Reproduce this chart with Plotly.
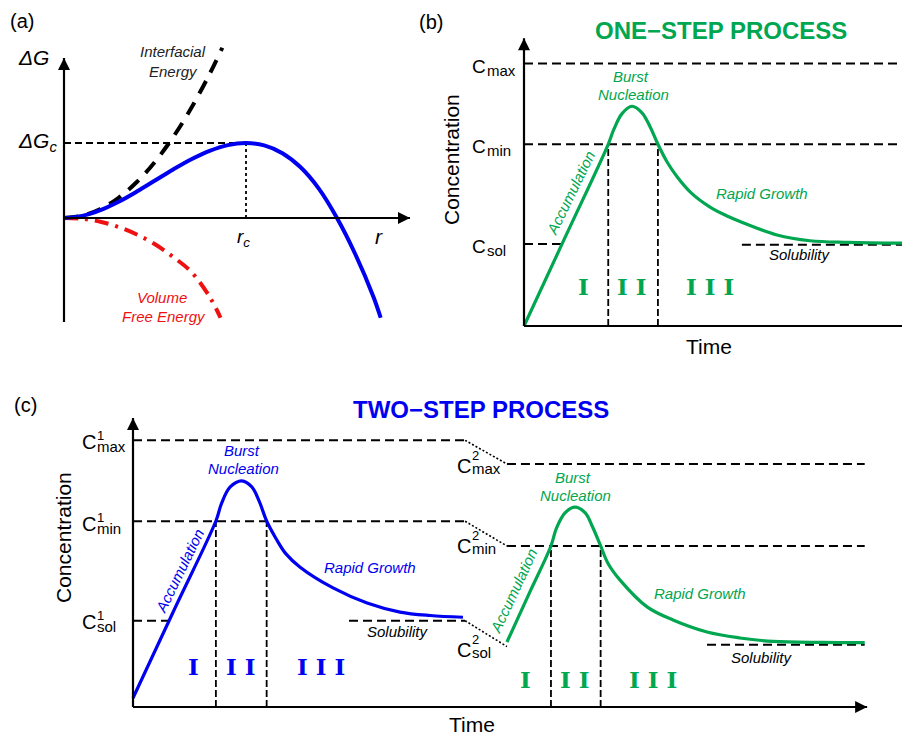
import plotly.graph_objects as go

W, H = 902, 732

# ---------------- data ----------------
# (a) free energy vs radius
r_total = [0, 0.1, 0.2, 0.3, 0.4, 0.5, 0.6, 0.7, 0.8, 0.9, 1.0, 1.1, 1.2, 1.3, 1.4, 1.5, 1.6, 1.7, 1.74]
dG_total = [0, 0.028, 0.104, 0.216, 0.352, 0.5, 0.648, 0.784, 0.896, 0.972, 1.0, 0.968, 0.864, 0.676, 0.392, 0.0, -0.48, -1.05, -1.33]
r_surface = [0, 0.1, 0.2, 0.3, 0.4, 0.5, 0.6, 0.7, 0.8, 0.87]
dG_surface = [0, 0.03, 0.12, 0.27, 0.48, 0.75, 1.08, 1.47, 1.92, 2.27]
r_volume = [0, 0.1, 0.2, 0.3, 0.4, 0.5, 0.6, 0.7, 0.8, 0.86]
dG_volume = [0, -0.01, -0.05, -0.12, -0.22, -0.35, -0.52, -0.72, -1.05, -1.33]
r_crit, dG_crit = 1.0, 1.0

# (b) one-step process
t_one = [0, 1.5, 3.12, 3.33, 3.63, 4.0, 4.37, 4.67, 4.96, 5.3, 5.67, 6.2, 6.89, 7.5, 8.11, 9.37, 10.59, 12.0, 14.0]
c_one = [0, 1.065, 2.216, 2.40, 2.59, 2.68, 2.60, 2.43, 2.216, 2.0, 1.82, 1.62, 1.45, 1.345, 1.26, 1.11, 1.04, 1.02, 1.01]
one_levels = [3.2, 2.216, 1.0]          # Cmax, Cmin, Csol
one_nuc = [3.12, 4.96]                  # nucleation window
one_sol_span = [8.07, 14.0]
one_csol_tick = 1.44
one_tend = 14.0

# (c) two-step process
t_step1 = [0, 1.5, 3.07, 3.28, 3.6, 4.03, 4.4, 4.68, 4.95, 5.3, 5.65, 6.19, 7.41, 8.67, 9.89, 11.0, 12.22]
c_step1 = [0.104, 1.11, 2.155, 2.36, 2.55, 2.62, 2.55, 2.38, 2.155, 1.95, 1.78, 1.62, 1.38, 1.205, 1.10, 1.06, 1.04]
t_step2 = [13.85, 14.7, 15.48, 15.68, 16.0, 16.37, 16.75, 17.03, 17.32, 17.6, 18.04, 19.04, 20.0, 21.26, 22.48, 23.7, 25.5, 27.1]
c_step2 = [0.753, 1.334, 1.866, 2.07, 2.25, 2.317, 2.25, 2.08, 1.866, 1.66, 1.47, 1.16, 1.008, 0.869, 0.80, 0.76, 0.748, 0.745]
step1_levels = [3.09, 2.152, 1.0]
step2_levels = [2.816, 1.866, 0.70]
step1_nuc = [3.07, 4.95]
step2_nuc = [15.48, 17.32]
step1_sol_span = [8.0, 12.3]
step2_sol_span = [21.26, 27.1]
step_switch = [12.3, 13.85]
two_tend = 27.1
two_csol_tick = 1.44

GREEN = "#00A650"
BLUE = "#0000F0"
RED = "#EE1111"
FONT = "Liberation Sans"

fig = go.Figure()


def panel(n, ox, oy, sx, sy, px0, px1, py0, py1):
    sfx = "" if n == 1 else str(n)
    fig.update_layout(**{
        "xaxis" + sfx: dict(domain=[px0 / W, px1 / W], range=[(px0 - ox) / sx, (px1 - ox) / sx],
                            visible=False, anchor="y" + sfx),
        "yaxis" + sfx: dict(domain=[1 - py1 / H, 1 - py0 / H], range=[(oy - py1) / sy, (oy - py0) / sy],
                            visible=False, anchor="x" + sfx),
    })
    return ("x" + sfx, "y" + sfx)


A = panel(1, 64, 218, 182, 75, 55, 425, 35, 330)
B = panel(2, 524, 326, 27, 82, 515, 902, 30, 335)
C = panel(3, 133, 707, 27, 86.3, 125, 880, 405, 720)


def line(ax, x, y, color="black", width=2, dash="solid", shape="linear"):
    fig.add_trace(go.Scatter(x=x, y=y, xaxis=ax[0], yaxis=ax[1], mode="lines",
                             line=dict(color=color, width=width, dash=dash, shape=shape),
                             hoverinfo="skip", showlegend=False, cliponaxis=False))


def arrow(ax, tail, tip, symbol):
    line(ax, [tail[0], tip[0]], [tail[1], tip[1]], width=2.2)
    fig.add_trace(go.Scatter(x=[tip[0]], y=[tip[1]], xaxis=ax[0], yaxis=ax[1], mode="markers",
                             marker=dict(symbol=symbol, size=12, color="black",
                                         line=dict(width=0)),
                             hoverinfo="skip", showlegend=False, cliponaxis=False))


def txt(px, py, s, size=15, color="black", italic=False, bold=False, angle=0, anchor="center", family=FONT):
    if italic:
        s = "<i>" + s + "</i>"
    if bold:
        s = "<b>" + s + "</b>"
    fig.add_annotation(x=px / W, y=1 - py / H, xref="paper", yref="paper", text=s, showarrow=False,
                       font=dict(size=size, color=color, family=family), textangle=angle,
                       xanchor=anchor, yanchor="middle", borderpad=0)


DASH = "9px,5px"
VDASH = "7px,3px"
DOT = "2px,2px"
RF = "DejaVu Serif"
RS = 23

# ---------- panel (a) ----------
line(A, [0, r_crit], [dG_crit, dG_crit], width=1.8, dash="7px,4px")
line(A, [r_crit, r_crit], [0, dG_crit], width=1.8, dash="3px,3px")
line(A, r_surface, dG_surface, width=4, dash="14px,10px", shape="spline")
line(A, r_volume, dG_volume, color=RED, width=4, dash="14px,7px,3px,7px", shape="spline")
line(A, r_total, dG_total, color=BLUE, width=4, shape="spline")
arrow(A, (0, -1.387), (0, 2.133), "arrow-up")
arrow(A, (0, 0), (1.901, 0), "arrow-right")

txt(22, 21, "(a)", size=20)
txt(33, 58, "ΔG", size=21, italic=True)
txt(37, 142, "ΔG<sub>c</sub>", size=21, italic=True)
txt(243, 238, "r<sub>c</sub>", size=19, italic=True)
txt(379, 236, "r", size=21, italic=True)
txt(173, 51, "Interfacial", size=15, italic=True, color="#222222")
txt(173, 71, "Energy", size=15, italic=True, color="#222222")
txt(162, 297, "Volume", size=15, italic=True, color=RED)
txt(164, 316, "Free Energy", size=15, italic=True, color=RED)

# ---------- panel (b) ----------
for lv in one_levels[:2]:
    line(B, [0, one_tend], [lv, lv], width=2, dash=DASH)
line(B, [0, one_csol_tick], [one_levels[2], one_levels[2]], width=2, dash=DASH)
line(B, one_sol_span, [one_levels[2] - 0.01, one_levels[2] - 0.01], width=2, dash=DASH)
for tn in one_nuc:
    line(B, [tn, tn], [0, one_levels[1]], width=1.8, dash=VDASH)
line(B, t_one, c_one, color=GREEN, width=3.2, shape="spline")
arrow(B, (0, 0), (0, 3.51), "arrow-up")
arrow(B, (0, 0), (14.15, 0), "arrow-right")

txt(431, 22, "(b)", size=20)
txt(721, 31, "ONE−STEP PROCESS", size=24, bold=True, color=GREEN)
txt(451, 160, "Concentration", size=21, angle=-90)
txt(709, 346, "Time", size=21)
for (cy, sub) in [(66.5, "max"), (146.5, "min"), (246.5, "sol")]:
    txt(478.5, cy, "C", size=19)
    txt(486, cy + 4, sub, size=15, anchor="left")
txt(631, 76, "Burst", size=15, italic=True, color=GREEN)
txt(633, 95, "Nucleation", size=15, italic=True, color=GREEN)
txt(570, 193, "Accumulation", size=15, italic=True, color=GREEN, angle=-64)
txt(762, 194, "Rapid Growth", size=15, italic=True, color=GREEN)
txt(800, 254, "Solubility", size=15, italic=True)
txt(583.5, 286, "I", size=RS, bold=True, color=GREEN, family=RF)
txt(632, 286, "I I", size=RS, bold=True, color=GREEN, family=RF)
txt(710, 286, "I I I", size=RS, bold=True, color=GREEN, family=RF)

# ---------- panel (c) ----------
for l1, l2 in zip(step1_levels[:2], step2_levels[:2]):
    line(C, [0, step_switch[0]], [l1, l1], width=2, dash=DASH)
    line(C, step_switch, [l1, l2], width=1.6, dash=DOT)
    line(C, [step_switch[1], two_tend], [l2, l2], width=2, dash=DASH)
line(C, [0, two_csol_tick], [step1_levels[2], step1_levels[2]], width=2, dash=DASH)
line(C, step1_sol_span, [step1_levels[2], step1_levels[2]], width=2, dash=DASH)
line(C, step_switch, [step1_levels[2], step2_levels[2]], width=1.6, dash=DOT)
line(C, step2_sol_span, [step2_levels[2] + 0.02, step2_levels[2] + 0.02], width=2, dash=DASH)
for tn in step1_nuc:
    line(C, [tn, tn], [0, step1_levels[1]], width=1.8, dash=VDASH)
for tn in step2_nuc:
    line(C, [tn, tn], [0, step2_levels[1]], width=1.8, dash=VDASH)
line(C, t_step1, c_step1, color=BLUE, width=3.2, shape="spline")
line(C, t_step2, c_step2, color=GREEN, width=3.2, shape="spline")
arrow(C, (0, 0), (0, 3.349), "arrow-up")
arrow(C, (0, 0), (27.19, 0), "arrow-right")

txt(25, 405, "(c)", size=20)
txt(481, 410, "TWO−STEP PROCESS", size=24, bold=True, color=BLUE)
txt(63, 537, "Concentration", size=21, angle=-90)
txt(472, 724, "Time", size=21)
for (cy, sup, sub) in [(442, "1", "max"), (524, "1", "min"), (622, "1", "sol")]:
    txt(88.5, cy, "C", size=20)
    txt(96, cy - 7, sup, size=13, anchor="left")
    txt(96, cy + 4, sub, size=15, anchor="left")
for (cy, sup, sub) in [(466, "2", "max"), (546, "2", "min"), (650, "2", "sol")]:
    txt(463.5, cy, "C", size=20)
    txt(471, cy - 11, sup, size=13, anchor="left")
    txt(471, cy + 2, sub, size=15, anchor="left")
txt(242, 450, "Burst", size=15, italic=True, color=BLUE)
txt(243, 468, "Nucleation", size=15, italic=True, color=BLUE)
txt(179, 571, "Accumulation", size=15, italic=True, color=BLUE, angle=-64)
txt(370, 567, "Rapid Growth", size=15, italic=True, color=BLUE)
txt(398, 631, "Solubility", size=15, italic=True)
txt(193.5, 666, "I", size=RS, bold=True, color=BLUE, family=RF)
txt(241, 666, "I I", size=RS, bold=True, color=BLUE, family=RF)
txt(321, 666, "I I I", size=RS, bold=True, color=BLUE, family=RF)

txt(573, 477, "Burst", size=15, italic=True, color=GREEN)
txt(575, 495, "Nucleation", size=15, italic=True, color=GREEN)
txt(513, 591, "Accumulation", size=15, italic=True, color=GREEN, angle=-65)
txt(700, 593, "Rapid Growth", size=15, italic=True, color=GREEN)
txt(762, 657, "Solubility", size=15, italic=True)
txt(525.5, 679, "I", size=RS, bold=True, color=GREEN, family=RF)
txt(575, 679, "I I", size=RS, bold=True, color=GREEN, family=RF)
txt(653, 679, "I I I", size=RS, bold=True, color=GREEN, family=RF)

fig.update_layout(width=W, height=H, margin=dict(l=0, r=0, t=0, b=0), autosize=False,
                  paper_bgcolor="white", plot_bgcolor="rgba(0,0,0,0)",
                  font=dict(family=FONT), showlegend=False)

fig.write_html("out.html", config={"displayModeBar": False},
               post_script="document.body.style.margin='0';document.body.style.overflow='hidden';")
